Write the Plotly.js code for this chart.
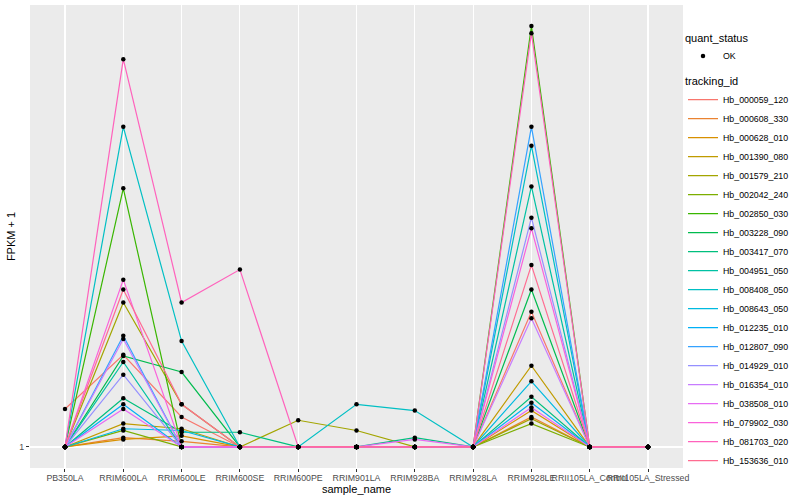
<!DOCTYPE html>
<html><head><meta charset="utf-8">
<script src="https://cdn.plot.ly/plotly-3.0.1.min.js"></script>
<style>html,body{margin:0;padding:0;background:#fff}#chart{width:800px;height:500px}</style>
</head><body><div id="chart"></div>
<script>
// categories
const samples = ['PB350LA','RRIM600LA','RRIM600LE','RRIM600SE','RRIM600PE','RRIM901LA','RRIM928BA','RRIM928LA','RRIM928LE','RRII105LA_Control','RRII105LA_Stressed'];
const trackingIds = ['Hb_000059_120','Hb_000608_330','Hb_000628_010','Hb_001390_080','Hb_001579_210','Hb_002042_240','Hb_002850_030','Hb_003228_090','Hb_003417_070','Hb_004951_050','Hb_008408_050','Hb_008643_050','Hb_012235_010','Hb_012807_090','Hb_014929_010','Hb_016354_010','Hb_038508_010','Hb_079902_030','Hb_081703_020','Hb_153636_010'];
const quantStatus = 'OK';

// FPKM + 1 per tracking_id, in sample order
const Hb_000059_120 = [1.22, 1.62, 1.17, 1, 1, 1, 1, 1, 2.03, 1, 1];
const Hb_000608_330 = [1, 1.05, 1.03, 1, 1, 1, 1, 1, 1.17, 1, 1];
const Hb_000628_010 = [1, 1.04, 1.06, 1, 1, 1, 1, 1, 1.21, 1, 1];
const Hb_001390_080 = [1, 1.13, 1.10, 1, 1, 1, 1, 1, 1.53, 1, 1];
const Hb_001579_210 = [1, 2.13, 1.25, 1, 1.15, 1.09, 1, 1, 1.16, 1, 1];
const Hb_002042_240 = [1, 1.09, 1, 1, 1, 1, 1, 1, 1.13, 1, 1];
const Hb_002850_030 = [1, 3.87, 1, 1, 1, 1, 1, 1, 9.05, 1, 1];
const Hb_003228_090 = [1, 1.61, 1.48, 1, 1, 1, 1, 1, 2.28, 1, 1];
const Hb_003417_070 = [1, 1.29, 1.08, 1.08, 1, 1, 1.05, 1, 1.30, 1, 1];
const Hb_004951_050 = [1, 1.56, 1, 1, 1, 1, 1, 1, 3.91, 1, 1];
const Hb_008408_050 = [1, 5.34, 1.74, 1, 1, 1.25, 1.21, 1, 4.84, 1, 1];
const Hb_008643_050 = [1, 1.10, 1.09, 1, 1, 1, 1, 1, 1.41, 1, 1];
const Hb_012235_010 = [1, 1.25, 1, 1, 1, 1, 1, 1, 1.26, 1, 1];
const Hb_012807_090 = [1, 1.79, 1, 1, 1, 1, 1, 1, 5.34, 1, 1];
const Hb_014929_010 = [1, 1.46, 1, 1, 1, 1, 1, 1, 3.32, 1, 1];
const Hb_016354_010 = [1, 1.76, 1, 1, 1, 1, 1, 1, 1.96, 1, 1];
const Hb_038508_010 = [1, 1.22, 1, 1, 1, 1, 1.04, 1, 1.23, 1, 1];
const Hb_079902_030 = [1, 2.40, 1, 1, 1, 1, 1, 1, 3.14, 1, 1];
const Hb_081703_020 = [1, 7.61, 2.13, 2.53, 1, 1, 1, 1, 8.72, 1, 1];
const Hb_153636_010 = [1, 2.28, 1.25, 1, 1, 1, 1, 1, 2.59, 1, 1];

const seriesValues = [Hb_000059_120, Hb_000608_330, Hb_000628_010, Hb_001390_080, Hb_001579_210, Hb_002042_240, Hb_002850_030, Hb_003228_090, Hb_003417_070, Hb_004951_050, Hb_008408_050, Hb_008643_050, Hb_012235_010, Hb_012807_090, Hb_014929_010, Hb_016354_010, Hb_038508_010, Hb_079902_030, Hb_081703_020, Hb_153636_010];

// ggplot2 default hue palette (20 levels)
const palette = ['#F8766D','#EA8331','#D89000','#C09B00','#A3A500','#7CAE00','#39B600','#00BB4E','#00BF7D','#00C1A3','#00BFC4','#00BAE0','#00B0F6','#35A2FF','#9590FF','#C77CFF','#E76BF3','#FA62DB','#FF62BC','#FF6C91'];

const FONT = '"Liberation Sans", Arial, Helvetica, sans-serif';
const traces = [];
trackingIds.forEach((id, i) => {
  traces.push({
    type: 'scatter', mode: 'lines', name: id,
    x: samples, y: seriesValues[i],
    line: {color: palette[i], width: 1.2},
    legend: 'legend2', hoverinfo: 'x+y+name'
  });
});
// all points (black) in one trace -> quant_status legend
const allX = [], allY = [];
seriesValues.forEach(v => v.forEach((val, j) => { allX.push(samples[j]); allY.push(val); }));
traces.push({
  type: 'scatter', mode: 'markers', name: quantStatus,
  x: allX, y: allY,
  marker: {color: '#000000', size: 4.5},
  legend: 'legend'
});

const maxLog = Math.log10(Math.max(...allY));
const layout = {
  width: 800, height: 500,
  paper_bgcolor: '#FFFFFF', plot_bgcolor: '#EBEBEB',
  margin: {l: 30, r: 117, t: 5, b: 32},
  font: {family: FONT, color: '#000000'},
  xaxis: {
    type: 'category', categoryorder: 'array', categoryarray: samples,
    range: [-0.6, samples.length - 0.4],
    showgrid: true, gridcolor: '#FFFFFF', gridwidth: 1.1,
    zeroline: false, showline: false,
    ticks: 'outside', ticklen: 3, tickcolor: '#333333', tickwidth: 1,
    tickangle: 0, ticklabelstandoff: -2,
    tickfont: {family: FONT, size: 8.8, color: '#4D4D4D'},
    title: {text: 'sample_name', font: {family: FONT, size: 11, color: '#000000'}, standoff: 1}
  },
  yaxis: {
    type: 'log',
    range: [-0.05 * maxLog, 1.05 * maxLog],
    tickvals: [1], ticktext: ['1'],
    showgrid: true, gridcolor: '#FFFFFF', gridwidth: 1.1,
    zeroline: false, showline: false,
    ticks: 'outside', ticklen: 3, tickcolor: '#333333', tickwidth: 1,
    tickfont: {family: FONT, size: 8.8, color: '#4D4D4D'},
    title: {text: 'FPKM + 1', font: {family: FONT, size: 11, color: '#000000'}, standoff: 1}
  },
  showlegend: true,
  legend: {
    x: 1.0, xanchor: 'left', y: 0.952, yanchor: 'top',
    bgcolor: 'rgba(0,0,0,0)',
    title: {text: 'quant_status', font: {family: FONT, size: 11, color: '#000000'}},
    font: {family: FONT, size: 8.8, color: '#000000'},
    itemwidth: 30
  },
  legend2: {
    x: 1.0, xanchor: 'left', y: 0.858, yanchor: 'top',
    bgcolor: 'rgba(0,0,0,0)',
    title: {text: 'tracking_id', font: {family: FONT, size: 11, color: '#000000'}},
    font: {family: FONT, size: 8.8, color: '#000000'},
    itemwidth: 30
  }
};
Plotly.newPlot('chart', traces, layout, {staticPlot: true, displayModeBar: false});
</script></body></html>
